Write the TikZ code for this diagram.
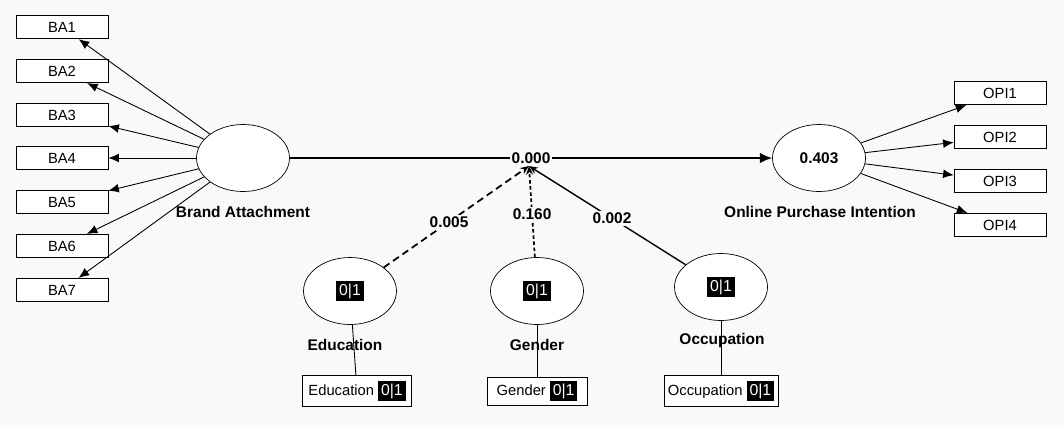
\documentclass[tikz,border=0pt]{standalone}
\usepackage{fontspec}
\setmainfont{Liberation Sans}
\usepackage{tikz}
\usetikzlibrary{shapes.geometric, arrows.meta}
\definecolor{PlsBack}{HTML}{F9F9F9}
\newcommand{\binlab}{{\fontsize{9}{10}\selectfont\setlength{\fboxsep}{1.6pt}\colorbox{black}{\textcolor{white}{0|1}}}}

\begin{document}
\begin{tikzpicture}[x=0.02cm, y=-0.02cm,
  every node/.style={font=\fontsize{8.4}{9}\selectfont, align=center},
  indbox/.style={draw, fill=white, minimum width=1.84cm, minimum height=0.47cm, inner sep=1pt},
  latent/.style={draw, fill=white, ellipse, minimum width=1.86cm, minimum height=1.34cm, inner sep=0pt},
  lvname/.style={font=\fontsize{8.8}{10}\selectfont\bfseries},
  pathval/.style={fill=PlsBack, inner sep=1pt, font=\fontsize{8.8}{10}\selectfont\bfseries},
  load/.style={-{Latex[length=6pt, width=5pt]}, line width=0.5pt},
  moder/.style={-{Stealth[length=5pt, width=4pt]}, line width=1pt}]
  \fill[PlsBack] (0,0) rectangle (1064,427);
  \useasboundingbox (0,0) rectangle (1064,427);
  % latent variables
  \node[latent] (ba) at (243,158) {};
  \node[latent] (opi) at (819,158) {\fontsize{8.8}{10}\selectfont\bfseries 0.403};
  \node[latent] (edu) at (350,291) {\binlab};
  \node[latent] (gen) at (537,291) {\binlab};
  \node[latent] (occ) at (721,287) {\binlab};
  % indicators
  \node[indbox] (ba1) at (62,27) {BA1};
  \node[indbox] (ba2) at (62,71) {BA2};
  \node[indbox] (ba3) at (62,115) {BA3};
  \node[indbox] (ba4) at (62,158) {BA4};
  \node[indbox] (ba5) at (62,202) {BA5};
  \node[indbox] (ba6) at (62,246) {BA6};
  \node[indbox] (ba7) at (62,290) {BA7};
  \node[indbox] (opi1) at (1000,93) {OPI1};
  \node[indbox] (opi2) at (1000,137) {OPI2};
  \node[indbox] (opi3) at (1000,181) {OPI3};
  \node[indbox] (opi4) at (1000,225) {OPI4};
  \node[indbox, minimum width=2.18cm, minimum height=0.62cm] (eduind) at (357,391) {Education \binlab};
  \node[indbox, minimum width=2.0cm, minimum height=0.56cm] (genind) at (537,391) {Gender \binlab};
  \node[indbox, minimum width=2.28cm, minimum height=0.62cm, inner sep=0pt] (occind) at (721,391) {Occupation \binlab};
  % loadings
  \draw[load] (ba) -- (ba1);
  \draw[load] (ba) -- (ba2);
  \draw[load] (ba) -- (ba3);
  \draw[load] (ba) -- (ba4);
  \draw[load] (ba) -- (ba5);
  \draw[load] (ba) -- (ba6);
  \draw[load] (ba) -- (ba7);
  \draw[load] (opi) -- (opi1);
  \draw[load] (opi) -- (opi2);
  \draw[load] (opi) -- (opi3);
  \draw[load] (opi) -- (opi4);
  \draw[line width=0.5pt] (edu) -- (eduind);
  \draw[line width=0.5pt] (gen) -- (genind);
  \draw[line width=0.5pt] (occ) -- (occind);
  % names
  \node[lvname] (balab) at (243,212) {Brand Attachment};
  \node[lvname] (opilab) at (820,212) {Online Purchase Intention};
  \node[lvname] (edulab) at (345,345) {Education};
  \node[lvname] (genlab) at (537,345) {Gender};
  \node[lvname] (occlab) at (722,340) {Occupation};
  % paths
  \draw[-{Latex[length=7pt, width=6pt]}, line width=1pt] (ba) -- node[pathval, pos=0.5]{0.000} (opi);
  \coordinate (modpt) at (529,166);
  \draw[moder, dash pattern=on 4pt off 2.5pt] (edu) -- node[pathval, pos=0.45]{0.005} (modpt);
  \draw[moder, dash pattern=on 2pt off 1.5pt] (gen) -- node[pathval, pos=0.47]{0.160} (modpt);
  \draw[moder, line width=0.8pt] (occ) -- node[pathval, pos=0.47]{0.002} (modpt);
\end{tikzpicture}
\end{document}
